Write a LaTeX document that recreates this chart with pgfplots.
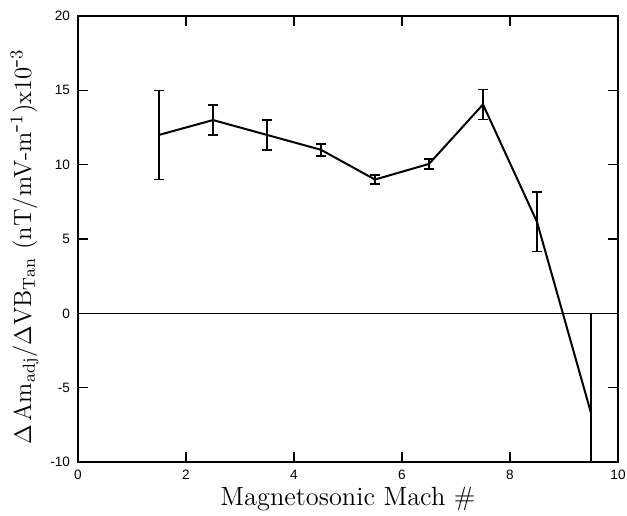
\documentclass[border=0pt]{standalone}
\usepackage{pgfplots}
\pgfplotsset{compat=1.18}
\usepackage{fontspec}
\newfontfamily\ticksf{Liberation Sans}
\begin{document}
\begin{tikzpicture}
\begin{axis}[
  name=ax,
  scale only axis,
  width=270pt, height=223pt,
  xmin=0, xmax=10, ymin=-10, ymax=20,
  xtick={0,2,4,6,8,10},
  xticklabels={0,2,4,6,8,10},
  ytick={-10,-5,0,5,10,15,20},
  yticklabels={-10,-5,0,5,10,15,20},
  tick align=inside,
  major tick length=5pt,
  tick style={black, line width=0.7pt},
  tick label style={font=\ticksf\fontsize{6.8}{7.5}\selectfont},
  xticklabel style={yshift=-0.5pt},
  yticklabel style={xshift=-0.5pt},
  axis line style={line width=0.8pt},
  xlabel={Magnetosonic Mach \#},
  xlabel style={font=\fontsize{13.2}{15}\selectfont, yshift=3pt},
  ylabel={$\Delta$\,Am$_{\mathrm{adj}}$/$\Delta$VB$_{\mathrm{Tan}}$ (nT/mV-m$^{\mbox{-}1}$)x10$^{\mbox{-}3}$},
  ylabel style={font=\fontsize{12.4}{14}\selectfont, yshift=-1pt, xshift=-4pt},
  clip=true,
]
\addplot[black, line width=0.5pt] coordinates {(0,0) (10,0)};
\addplot[black, line width=1pt, mark=none,
  error bars/.cd, y dir=both, y explicit,
  error bar style={line width=0.8pt},
  error mark options={rotate=90, mark size=2.6pt, line width=0.8pt}]
 coordinates {
  (1.5,12.0) +- (0,3.0)
  (2.5,13.0) +- (0,1.0)
  (3.5,12.0) +- (0,1.0)
  (4.5,11.0) +- (0,0.4)
  (5.5,9.0) +- (0,0.3)
  (6.5,10.05) +- (0,0.35)
  (7.5,14.05) +- (0,1.0)
  (8.5,6.15) +- (0,2.0)
  (9.5,-6.7) +- (0,6.7)
 };
\end{axis}
\draw[line width=1.1pt] (ax.south west) -- (ax.north west);
\draw[line width=1.1pt] (ax.south west) -- (ax.south east);
\pgfresetboundingbox
\useasboundingbox ([xshift=-39pt,yshift=-26.5pt]ax.south west) rectangle ([xshift=4.5pt,yshift=8pt]ax.north east);
\end{tikzpicture}
\end{document}
